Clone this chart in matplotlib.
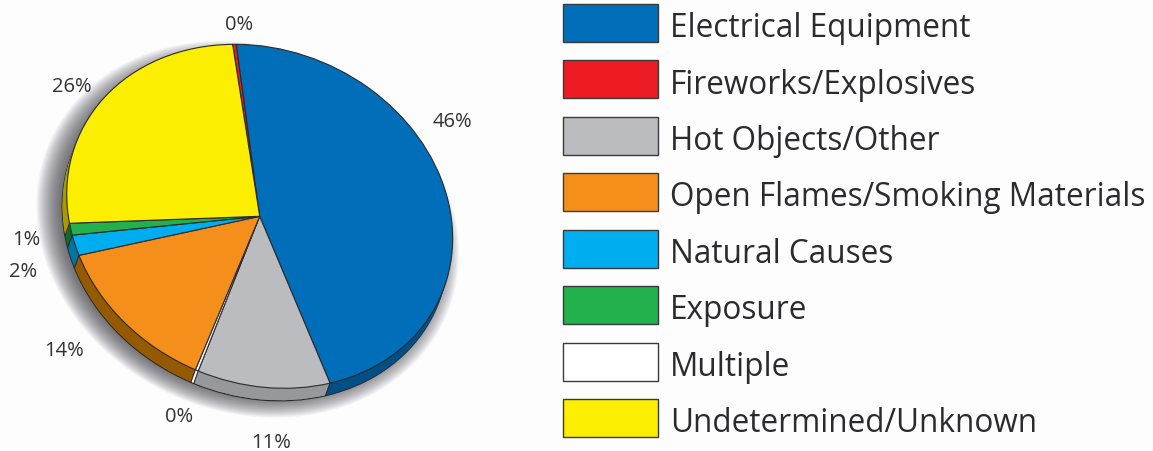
import matplotlib
matplotlib.use('Agg')
import matplotlib.pyplot as plt
from matplotlib.patches import Circle, Rectangle
from matplotlib.transforms import Affine2D
import numpy as np

# slices going clockwise from the top, shares
slice_values = [0.3, 46.0, 11.1, 0.25, 13.9, 1.9, 1.1, 25.45]
slice_colors = ['#ed1c24', '#006eb8', '#bbbcbf', '#ffffff', '#f58f1c', '#00aeef', '#22b14c', '#fbee00']
side_colors = ['#8a1015', '#004f86', '#97989b', '#ffffff', '#955a00', '#0076a3', '#0c6b30', '#a89a00']

label_text = ['0%', '46%', '26%', '1%', '2%', '14%', '0%', '11%']
label_x = [239, 452, 72, 26, 23, 64, 179, 271]
label_y = [25, 122, 87, 240, 272, 351, 417, 443]

legend_names = ['Electrical Equipment', 'Fireworks/Explosives', 'Hot Objects/Other',
                'Open Flames/Smoking Materials', 'Natural Causes', 'Exposure',
                'Multiple', 'Undetermined/Unknown']
legend_colors = ['#006eb8', '#ed1c24', '#bbbcbf', '#f58f1c', '#00aeef', '#22b14c', '#ffffff', '#fbee00']

W, H = 1153, 452
cx, cy = 259.7, 217.3
A, B, TILT = 197.8, 166.4, np.radians(24)   # squashed circle, tilted
START = 118.6
SIDE_X, SIDE_Y = -4.5, 12.5
EDGE = '#2b2a2c'

fig = plt.figure(figsize=(W / 100, H / 100), dpi=100, facecolor='#fdfdfe')
ax = fig.add_axes([0, 0, 1, 1])


def squash(dx=0.0, dy=0.0):
    # unit circle to pixels
    return Affine2D.from_values(A * np.cos(TILT), A * np.sin(TILT),
                                B * np.sin(TILT), -B * np.cos(TILT),
                                cx + dx, cy + dy)


def draw_pie(colors, dx, dy, edge, lw, z):
    wedges, _ = ax.pie(slice_values, colors=colors, startangle=START, counterclock=False,
                       wedgeprops={'edgecolor': edge, 'linewidth': lw, 'zorder': z})
    for w in wedges:
        w.set_transform(squash(dx, dy) + ax.transData)


# soft shadow down and left of the pie
layers = 30
for i in range(layers):
    r = 1 + (18 - 36 * i / layers) / 190
    ax.add_patch(Circle((0, 0), r, facecolor='#34343c', edgecolor='none', alpha=0.05, zorder=0.1,
                        transform=squash(-12, 13) + ax.transData))

# side of the pie, stacked from the bottom up
draw_pie(side_colors, SIDE_X, SIDE_Y, EDGE, 0.9, 1)
for k in range(12, 0, -1):
    draw_pie(side_colors, SIDE_X * k / 12.5, k, 'none', 0, 2 + (13 - k) * 0.01)

# seams on the side, where the slices meet at the rim
bounds = START - np.cumsum(slice_values) * 3.6
for b in bounds[1:7]:
    t = np.radians(b)
    px, py = squash().transform((np.cos(t), np.sin(t)))
    ax.plot([px, px + SIDE_X], [py, py + SIDE_Y], color=EDGE, lw=0.8, zorder=3)

draw_pie(slice_colors, 0, 0, EDGE, 0.8, 4)

ax.set_aspect('auto')
ax.set_xlim(0, W)
ax.set_ylim(H, 0)
ax.axis('off')

for t, x, y in zip(label_text, label_x, label_y):
    ax.text(x, y, t, ha='center', va='center', fontsize=14.5, family='Open Sans', color='#333132', zorder=6)

for i, (name, col) in enumerate(zip(legend_names, legend_colors)):
    y0 = 4.5 + i * 56.5
    ax.add_patch(Rectangle((562.5, y0), 95.5, 38, facecolor=col, edgecolor='#3a393b', linewidth=1.0, zorder=5))
    ax.text(670, y0 + 24, name, ha='left', va='center', fontsize=22.7, family='Open Sans', color='#2b2a2c', zorder=6)

fig.savefig('out.png', dpi=100, facecolor=fig.get_facecolor())
